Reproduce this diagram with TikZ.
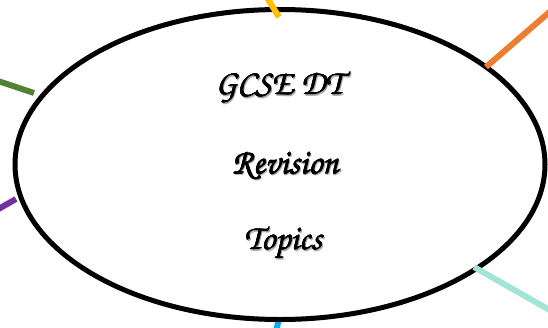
\documentclass[tikz,border=0pt]{standalone}
\usepackage[T1]{fontenc}
\usetikzlibrary{shapes.geometric}
\definecolor{cyel}{HTML}{FFC000}
\definecolor{corg}{HTML}{ED7D31}
\definecolor{cgrn}{HTML}{548235}
\definecolor{cpur}{HTML}{7030A0}
\definecolor{ctea}{HTML}{A2E5D8}
\definecolor{cblu}{HTML}{00B0F0}
\newcommand{\scriptface}{\fontfamily{pzc}\fontseries{mb}\fontshape{it}\fontsize{35}{40}\selectfont}
\newcommand{\heavytext}[1]{\leavevmode
  \rlap{\hspace{1.4pt}\raisebox{-1.6pt}{\textcolor{black!30}{#1}}}%
  \rlap{\hspace{1.0pt}\raisebox{-1.0pt}{\textcolor{black!45}{#1}}}%
  \rlap{#1}\rlap{\hspace{0.45pt}#1}\rlap{\hspace{0.25pt}\raisebox{0.3pt}{#1}}%
  \rlap{\hspace{0.2pt}\raisebox{-0.3pt}{#1}}\phantom{#1}}
\tikzset{
  spoke/.style={line width=6pt},
  hub/.style={ellipse, draw=black, line width=5pt, fill=white, minimum width=530pt, minimum height=310pt, inner sep=0pt},
  title/.style={font=\scriptface, text=black, inner sep=0pt}
}
\begin{document}
\begin{tikzpicture}[x=1pt,y=-1pt]
\useasboundingbox (0,0) rectangle (548,327);
\fill[white] (0,0) rectangle (548,327);
\coordinate (y1) at (266,-4); \coordinate (y2) at (279,17);
\coordinate (o1) at (553,9); \coordinate (o2) at (486,67);
\coordinate (g1) at (-5,80); \coordinate (g2) at (34,93);
\coordinate (p1) at (-5,211); \coordinate (p2) at (16,199);
\coordinate (t1) at (553,312); \coordinate (t2) at (474,267);
\coordinate (b1) at (276,332); \coordinate (b2) at (279,318);
\draw[spoke, cblu] (b1) -- (b2);
\node[hub] (hub) at (280,164.5) {};
\draw[spoke, cyel] (y1) -- (y2);
\draw[spoke, corg] (o1) -- (o2);
\draw[spoke, cgrn] (g1) -- (g2);
\draw[spoke, cpur] (p1) -- (p2);
\draw[spoke, ctea] (t1) -- (t2);
\node[title] (l1) at (279,88) {\heavytext{GCSE DT}};
\node[title] (l2) at (285,166) {\heavytext{Revision}};
\node[title] (l3) at (283,244) {\heavytext{Topics}};
\end{tikzpicture}
\end{document}
